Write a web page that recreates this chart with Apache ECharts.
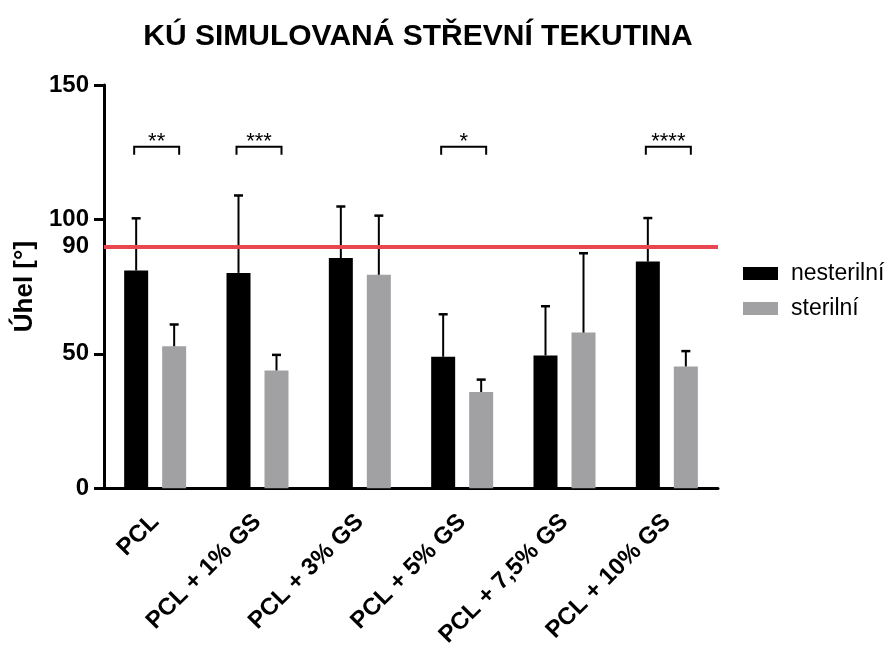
<!DOCTYPE html>
<html><head><meta charset="utf-8">
<script src="https://cdn.jsdelivr.net/npm/echarts@6/dist/echarts.min.js"></script>
<style>html,body{margin:0;padding:0;background:#fff}#c{width:888px;height:650px}</style>
</head><body><div id="c"></div>
<script>
const categories = ['PCL', 'PCL + 1% GS', 'PCL + 3% GS', 'PCL + 5% GS', 'PCL + 7,5% GS', 'PCL + 10% GS'];
const nesterilni = [81.0, 80.1, 85.6, 48.9, 49.4, 84.3];
const nesterilniErr = [100.4, 108.9, 104.8, 64.7, 67.7, 100.5];
const sterilni = [52.8, 43.8, 79.4, 35.8, 57.9, 45.3];
const sterilniErr = [60.9, 49.6, 101.4, 40.4, 87.4, 51.0];
const significance = [[0, '**'], [1, '***'], [3, '*'], [5, '****']];
const bracketLevel = 127;
const thresholdValue = 90;
const yLabelValues = [0, 50, 90, 100, 150];
const yTickValues = [0, 50, 100, 150];

const FONT = 'Liberation Sans, Arial, sans-serif';
const BAR_W = 24, BAR_GAP = 14;
const OFF = (BAR_W + BAR_GAP) / 2;

function errItem(offsetSign) {
  return function (params, api) {
    const x = api.coord([api.value(0), api.value(1)]);
    const top = api.coord([api.value(0), api.value(2)]);
    const cx = x[0] + offsetSign * OFF;
    const cap = 4.5;
    return {
      type: 'group',
      children: [
        { type: 'line', shape: { x1: cx, y1: x[1], x2: cx, y2: top[1] }, style: { stroke: '#000', lineWidth: 2 } },
        { type: 'line', shape: { x1: cx - cap, y1: top[1], x2: cx + cap, y2: top[1] }, style: { stroke: '#000', lineWidth: 2.5 } }
      ]
    };
  };
}

const chart = echarts.init(document.getElementById('c'), null, { renderer: 'canvas' });
chart.setOption({
  animation: false,
  backgroundColor: '#fff',
  title: {
    text: 'KÚ SIMULOVANÁ STŘEVNÍ TEKUTINA',
    left: 413, top: 17, textAlign: 'center',
    textStyle: { fontFamily: FONT, fontWeight: 'bold', fontSize: 30, color: '#000' }
  },
  legend: {
    orient: 'vertical', left: 738, top: 257, itemWidth: 35, itemHeight: 13, itemGap: 12,
    textStyle: { fontFamily: FONT, fontSize: 23, color: '#000', padding: [0, 0, 0, 8] },
    data: [{ name: 'nesterilní', icon: 'rect' }, { name: 'sterilní', icon: 'rect' }]
  },
  grid: { left: 104, width: 614, top: 85, bottom: 160, containLabel: false },
  xAxis: {
    type: 'category', data: categories,
    axisLine: { lineStyle: { color: '#000', width: 3 } },
    axisTick: { alignWithLabel: true, length: 8, lineStyle: { color: '#000', width: 3 } },
    axisLabel: { rotate: 45, margin: 30, fontFamily: FONT, fontWeight: 'bold', fontSize: 24, color: '#000', interval: 0 }
  },
  yAxis: {
    type: 'value', min: 0, max: 150, interval: 10,
    name: 'Úhel [°]', nameLocation: 'middle', nameGap: 56, nameRotate: 90,
    nameTextStyle: { fontFamily: FONT, fontWeight: 'bold', fontSize: 26, color: '#000' },
    axisLine: { show: true, lineStyle: { color: '#000', width: 3 } },
    axisTick: { show: true, length: 10, customValues: yTickValues, lineStyle: { color: '#000', width: 3 } },
    axisLabel: { customValues: yLabelValues, margin: 15, fontFamily: FONT, fontWeight: 'bold', fontSize: 24, color: '#000' },
    splitLine: { show: false }
  },
  series: [
    {
      name: 'nesterilní', type: 'bar', data: nesterilni, barWidth: BAR_W, barGap: (BAR_GAP / BAR_W * 100) + '%',
      itemStyle: { color: '#000' }, z: 2,
      markLine: {
        silent: true, symbol: 'none', label: { show: false },
        lineStyle: { color: '#e8474f', width: 4, type: 'solid' },
        data: [{ yAxis: thresholdValue }]
      }
    },
    {
      name: 'sterilní', type: 'bar', data: sterilni, barWidth: BAR_W,
      itemStyle: { color: '#a1a1a3' }, z: 2
    },
    {
      type: 'custom', name: 'errN', renderItem: errItem(-1), z: 3,
      data: nesterilni.map((v, i) => [i, v, nesterilniErr[i]])
    },
    {
      type: 'custom', name: 'errS', renderItem: errItem(1), z: 3,
      data: sterilni.map((v, i) => [i, v, sterilniErr[i]])
    },
    {
      type: 'custom', name: 'sig', z: 4,
      data: significance.map(s => [s[0], bracketLevel, s[1]]),
      renderItem: function (params, api) {
        const p = api.coord([api.value(0), api.value(1)]);
        const x1 = p[0] - 21, x2 = p[0] + 24, y = p[1], leg = 8;
        const stars = significance[params.dataIndex][1];
        return {
          type: 'group',
          children: [
            { type: 'polyline', shape: { points: [[x1, y + leg], [x1, y], [x2, y], [x2, y + leg]] }, style: { stroke: '#000', lineWidth: 2, fill: null } },
            { type: 'text', style: { text: stars, x: (x1 + x2) / 2, y: y + 6, textAlign: 'center', textVerticalAlign: 'bottom', fontFamily: FONT, fontSize: 22, fill: '#000' } }
          ]
        };
      }
    }
  ]
});
</script></body></html>
